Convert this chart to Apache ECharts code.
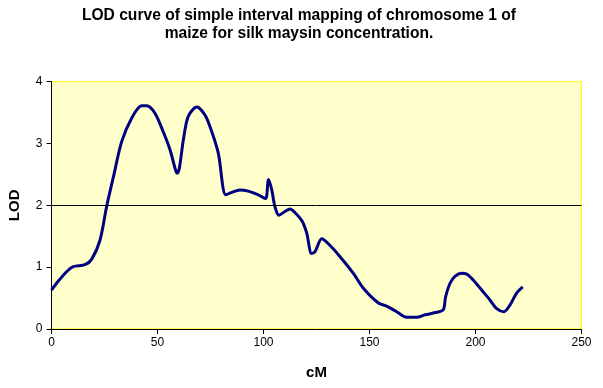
<!DOCTYPE html>
<html>
<head>
<meta charset="utf-8">
<script src="https://cdn.jsdelivr.net/npm/echarts@6/dist/echarts.min.js"></script>
<style>html,body{margin:0;padding:0;background:#fff}#c{width:603px;height:388px}</style>
</head>
<body>
<div id="c"></div>
<script>
const titleText = "LOD curve of simple interval mapping of chromosome 1 of\nmaize for silk maysin concentration.";
const xName = "cM";
const yName = "LOD";
const threshold = 2;
const cM = [0, 2.4, 7.2, 10.3, 15.8, 19, 22.9, 26, 29.2, 33.1, 37.8, 42.5, 44.9, 48.8, 52.7, 55.9, 58.7, 59.3, 60.3, 62.2, 64.5, 68.5, 72.4, 75.6, 78.7, 82.2, 85, 88.9, 92.8, 97.6, 101, 101.5, 102.4, 103.9, 105.4, 107.3, 110.1, 112.5, 114.9, 118.3, 120.4, 122.7, 124.3, 127.5, 131.4, 136.1, 142.4, 147.1, 154.2, 158.1, 162.8, 167.5, 172.3, 176.2, 181.7, 184.8, 185.9, 188, 190.3, 193.5, 195.8, 199, 202.9, 206.8, 210, 213.4, 216.3, 219.4, 222.3];
const lod = [0.63, 0.74, 0.93, 1.01, 1.04, 1.13, 1.44, 1.98, 2.46, 3.03, 3.41, 3.61, 3.61, 3.49, 3.19, 2.90, 2.55, 2.52, 2.60, 3.06, 3.44, 3.59, 3.46, 3.19, 2.84, 2.17, 2.21, 2.25, 2.23, 2.17, 2.11, 2.15, 2.42, 2.25, 1.98, 1.84, 1.90, 1.94, 1.88, 1.74, 1.55, 1.22, 1.25, 1.46, 1.35, 1.17, 0.90, 0.66, 0.42, 0.37, 0.28, 0.19, 0.19, 0.23, 0.27, 0.31, 0.52, 0.74, 0.85, 0.90, 0.89, 0.79, 0.63, 0.47, 0.33, 0.28, 0.39, 0.58, 0.68];

const chart = echarts.init(document.getElementById('c'), null, {renderer: 'canvas'});
const font = "'Liberation Sans', Arial, sans-serif";
chart.setOption({
  animation: false,
  backgroundColor: '#ffffff',
  title: {
    text: titleText,
    left: 299, top: 7, padding: 0, textAlign: 'center',
    textStyle: {fontFamily: font, fontSize: 15.6, fontWeight: 'bold', color: '#000', lineHeight: 17.5}
  },
  grid: {
    left: 51.5, right: 21.5, top: 81.7, bottom: 59,
    outerBoundsMode: 'none', containLabel: false,
    show: true, backgroundColor: '#FFFFCC', borderColor: '#FFFF00', borderWidth: 1
  },
  xAxis: {
    type: 'value', min: 0, max: 250, interval: 50,
    name: xName, nameLocation: 'middle', nameGap: 36,
    nameTextStyle: {fontFamily: font, fontSize: 15, fontWeight: 'bold', color: '#000'},
    axisLine: {show: true, onZero: false, lineStyle: {color: '#000', width: 1}},
    axisTick: {show: true, length: 5, lineStyle: {color: '#000'}},
    axisLabel: {fontFamily: font, fontSize: 12, color: '#000', margin: 8},
    splitLine: {show: false}
  },
  yAxis: {
    type: 'value', min: 0, max: 4, interval: 1,
    name: yName, nameLocation: 'middle', nameGap: 29, nameRotate: 90,
    nameTextStyle: {fontFamily: font, fontSize: 15, fontWeight: 'bold', color: '#000'},
    axisLine: {show: true, lineStyle: {color: '#000', width: 1}},
    axisTick: {show: true, length: 5, lineStyle: {color: '#000'}},
    axisLabel: {fontFamily: font, fontSize: 12, color: '#000', margin: 9},
    splitLine: {show: false}
  },
  series: [{
    type: 'line',
    data: cM.map((x, i) => [x, lod[i]]),
    smooth: 0.3,
    showSymbol: false,
    lineStyle: {color: '#000080', width: 3},
    markLine: {
      silent: true, symbol: 'none', label: {show: false},
      lineStyle: {color: '#000', width: 1, type: 'solid'},
      data: [{yAxis: threshold}]
    }
  }]
});
</script>
</body>
</html>
